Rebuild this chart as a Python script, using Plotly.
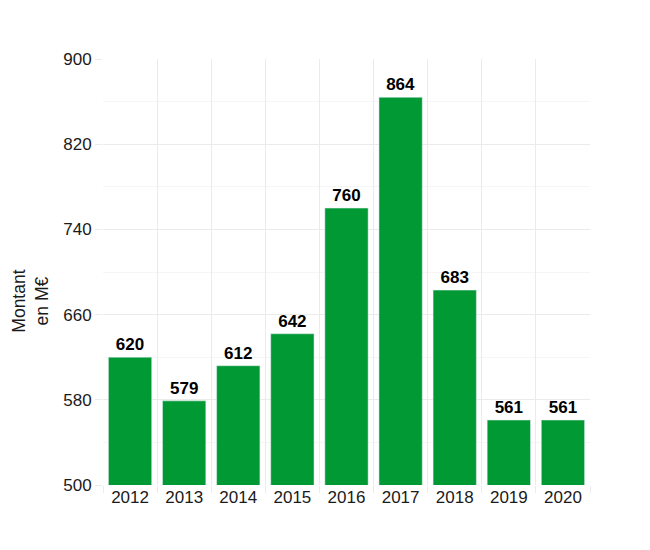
import plotly.graph_objects as go

years = ["2012", "2013", "2014", "2015", "2016", "2017", "2018", "2019", "2020"]
montants = [620, 579, 612, 642, 760, 864, 683, 561, 561]
y_ticks = [500, 580, 660, 740, 820, 900]

fig = go.Figure(go.Bar(
    x=years,
    y=montants,
    width=0.8,
    marker_color="#009933",
    text=montants,
    textposition="outside",
    textfont=dict(size=17, color="black", family="Liberation Sans"),
    texttemplate="<b>%{text}</b>",
    cliponaxis=False,
))

# the page body adds 8px around the figure
fig.update_layout(
    width=650,
    height=550,
    font=dict(family="Liberation Sans", size=17, color="#1a1a1a"),
    plot_bgcolor="white",
    paper_bgcolor="white",
    margin=dict(l=95, r=68, t=51, b=73),
    showlegend=False,
    bargap=0.2,
)

fig.update_xaxes(
    type="category",
    tickson="boundaries",
    showgrid=True,
    gridcolor="#ebebeb",
    ticks="outside",
    ticklen=7,
    tickcolor="#ebebeb",
    showline=False,
    zeroline=False,
)

fig.update_yaxes(
    range=[500, 900],
    tickvals=y_ticks,
    showgrid=True,
    gridcolor="#ebebeb",
    ticks="outside",
    ticklen=7,
    tickcolor="#ebebeb",
    zeroline=False,
    showline=False,
    minor=dict(dtick=40, tick0=500, showgrid=True, gridcolor="#f5f5f5", ticks=""),
)

fig.add_annotation(
    text="Montant<br>en M€",
    xref="paper", yref="y",
    x=-0.148, y=673,
    xanchor="center", yanchor="middle",
    textangle=-90,
    showarrow=False,
    font=dict(size=17.5, color="#1a1a1a"),
)

fig.write_html("out.html")
